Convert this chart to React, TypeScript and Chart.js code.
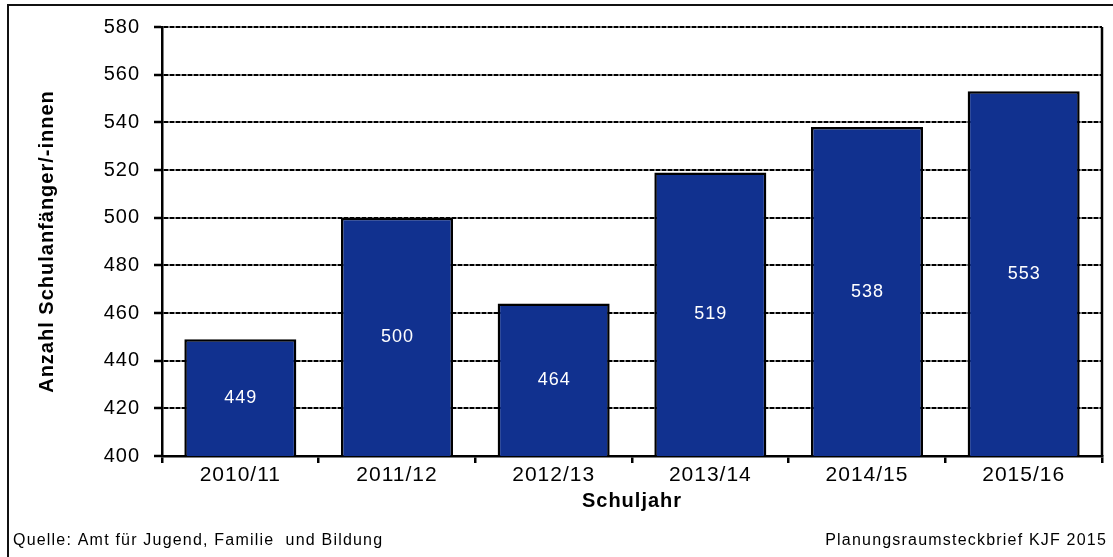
import React, { useEffect, useRef } from "react";
import { Chart, registerables } from "chart.js";

Chart.register(...registerables);

const categories = ["2010/11", "2011/12", "2012/13", "2013/14", "2014/15", "2015/16"];
const values = [449, 500, 464, 519, 538, 553];
const yMin = 400;
const yMax = 580;
const yStep = 20;
const xTitle = "Schuljahr";
const yTitle = "Anzahl Schulanfänger/-innen";
const sourceNote = "Quelle: Amt für Jugend, Familie  und Bildung";
const creditNote = "Planungsraumsteckbrief KJF 2015";

const W = 1113;
const H = 557;
const FONT = "'Liberation Sans', Arial, sans-serif";
const BAR_COLOR = "#11318f";

const framePlugin = {
  id: "framePlugin",
  beforeLayout(chart: any) {
    chart.ctx.letterSpacing = "1px";
  },
  beforeDraw(chart: any) {
    const c = chart.ctx;
    c.save();
    c.fillStyle = "#ffffff";
    c.fillRect(0, 0, chart.width, chart.height);
    c.restore();
    c.letterSpacing = "1px";
  },
  afterDatasetsDraw(chart: any) {
    const c = chart.ctx;
    const meta = chart.getDatasetMeta(0);
    const yScale = chart.scales.y;
    c.save();
    c.letterSpacing = "1px";
    c.fillStyle = "#ffffff";
    c.font = `18px ${FONT}`;
    c.textAlign = "center";
    c.textBaseline = "middle";
    const ds = chart.data.datasets[0].data as number[];
    meta.data.forEach((bar: any, i: number) => {
      const v = ds[i];
      const p = bar.getProps(["x", "y", "base"], true);
      const top = yScale.getPixelForValue(v);
      const base = yScale.getPixelForValue(yScale.min);
      const x = Number.isFinite(p.x) ? p.x : bar.x;
      c.fillText(String(v), x + 0.5, (top + base) / 2);
    });
    c.restore();
  },
  afterDraw(chart: any) {
    const c = chart.ctx;
    const a = chart.chartArea;
    c.save();
    c.strokeStyle = "#000";
    c.lineWidth = 2.5;
    c.beginPath();
    c.moveTo(a.right, a.top);
    c.lineTo(a.right, a.bottom);
    c.stroke();
    c.lineWidth = 2;
    c.strokeStyle = "#111";
    c.beginPath();
    c.moveTo(8, chart.height);
    c.lineTo(8, 5);
    c.lineTo(chart.width, 5);
    c.stroke();
    c.fillStyle = "#000";
    c.font = `16px ${FONT}`;
    c.letterSpacing = "1.2px";
    c.textBaseline = "middle";
    c.textAlign = "left";
    c.fillText(sourceNote, 13, 541);
    c.textAlign = "right";
    c.fillText(creditNote, 1107, 541);
    c.restore();
  },
};

export default function App() {
  const ref = useRef<HTMLCanvasElement | null>(null);

  useEffect(() => {
    if (!ref.current) return;
    const chart = new Chart(ref.current, {
      type: "bar",
      data: {
        labels: categories,
        datasets: [
          {
            data: values,
            backgroundColor: BAR_COLOR,
            borderColor: "#000",
            borderWidth: 2.5,
            barPercentage: 0.715,
            categoryPercentage: 1,
          },
        ],
      },
      options: {
        responsive: false,
        animation: false,
        devicePixelRatio: 1,
        layout: { padding: { top: 27, right: 11, left: 0, bottom: 0 } },
        plugins: {
          legend: { display: false },
          tooltip: { enabled: false },
        },
        scales: {
          x: {
            offset: true,
            afterFit: (s: any) => {
              s.height = 101;
            },
            grid: {
              offset: true,
              drawOnChartArea: false,
              drawTicks: true,
              tickLength: 7,
              color: "#000",
              lineWidth: 2.5,
            },
            border: { display: true, color: "#000", width: 2.5 },
            ticks: {
              color: "#000",
              font: { family: FONT, size: 21 },
              padding: 0,
              maxRotation: 0,
              autoSkip: false,
            },
            title: {
              display: true,
              text: xTitle,
              color: "#000",
              font: { family: FONT, size: 20, weight: "bold" },
              padding: { top: 0, bottom: 44 },
            },
          },
          y: {
            min: yMin,
            max: yMax,
            afterFit: (s: any) => {
              s.width = 162;
            },
            grid: {
              color: "#000",
              lineWidth: 2,
              drawTicks: true,
              tickLength: 8,
              tickColor: "#000",
              tickWidth: 2.5,
            },
            border: { display: true, color: "#000", width: 2.5, dash: [5, 1] },
            ticks: {
              stepSize: yStep,
              color: "#000",
              font: { family: FONT, size: 20 },
              padding: 14,
            },
            title: {
              display: true,
              text: yTitle,
              color: "#000",
              font: { family: FONT, size: 20, weight: "bold" },
              padding: { top: 35, bottom: 0 },
            },
          },
        },
      },
      plugins: [framePlugin],
    });
    return () => chart.destroy();
  }, []);

  return (
    <div style={{ position: "absolute", left: 0, top: 0, width: W, height: H, background: "#fff" }}>
      <canvas ref={ref} width={W} height={H} style={{ display: "block" }} />
    </div>
  );
}
